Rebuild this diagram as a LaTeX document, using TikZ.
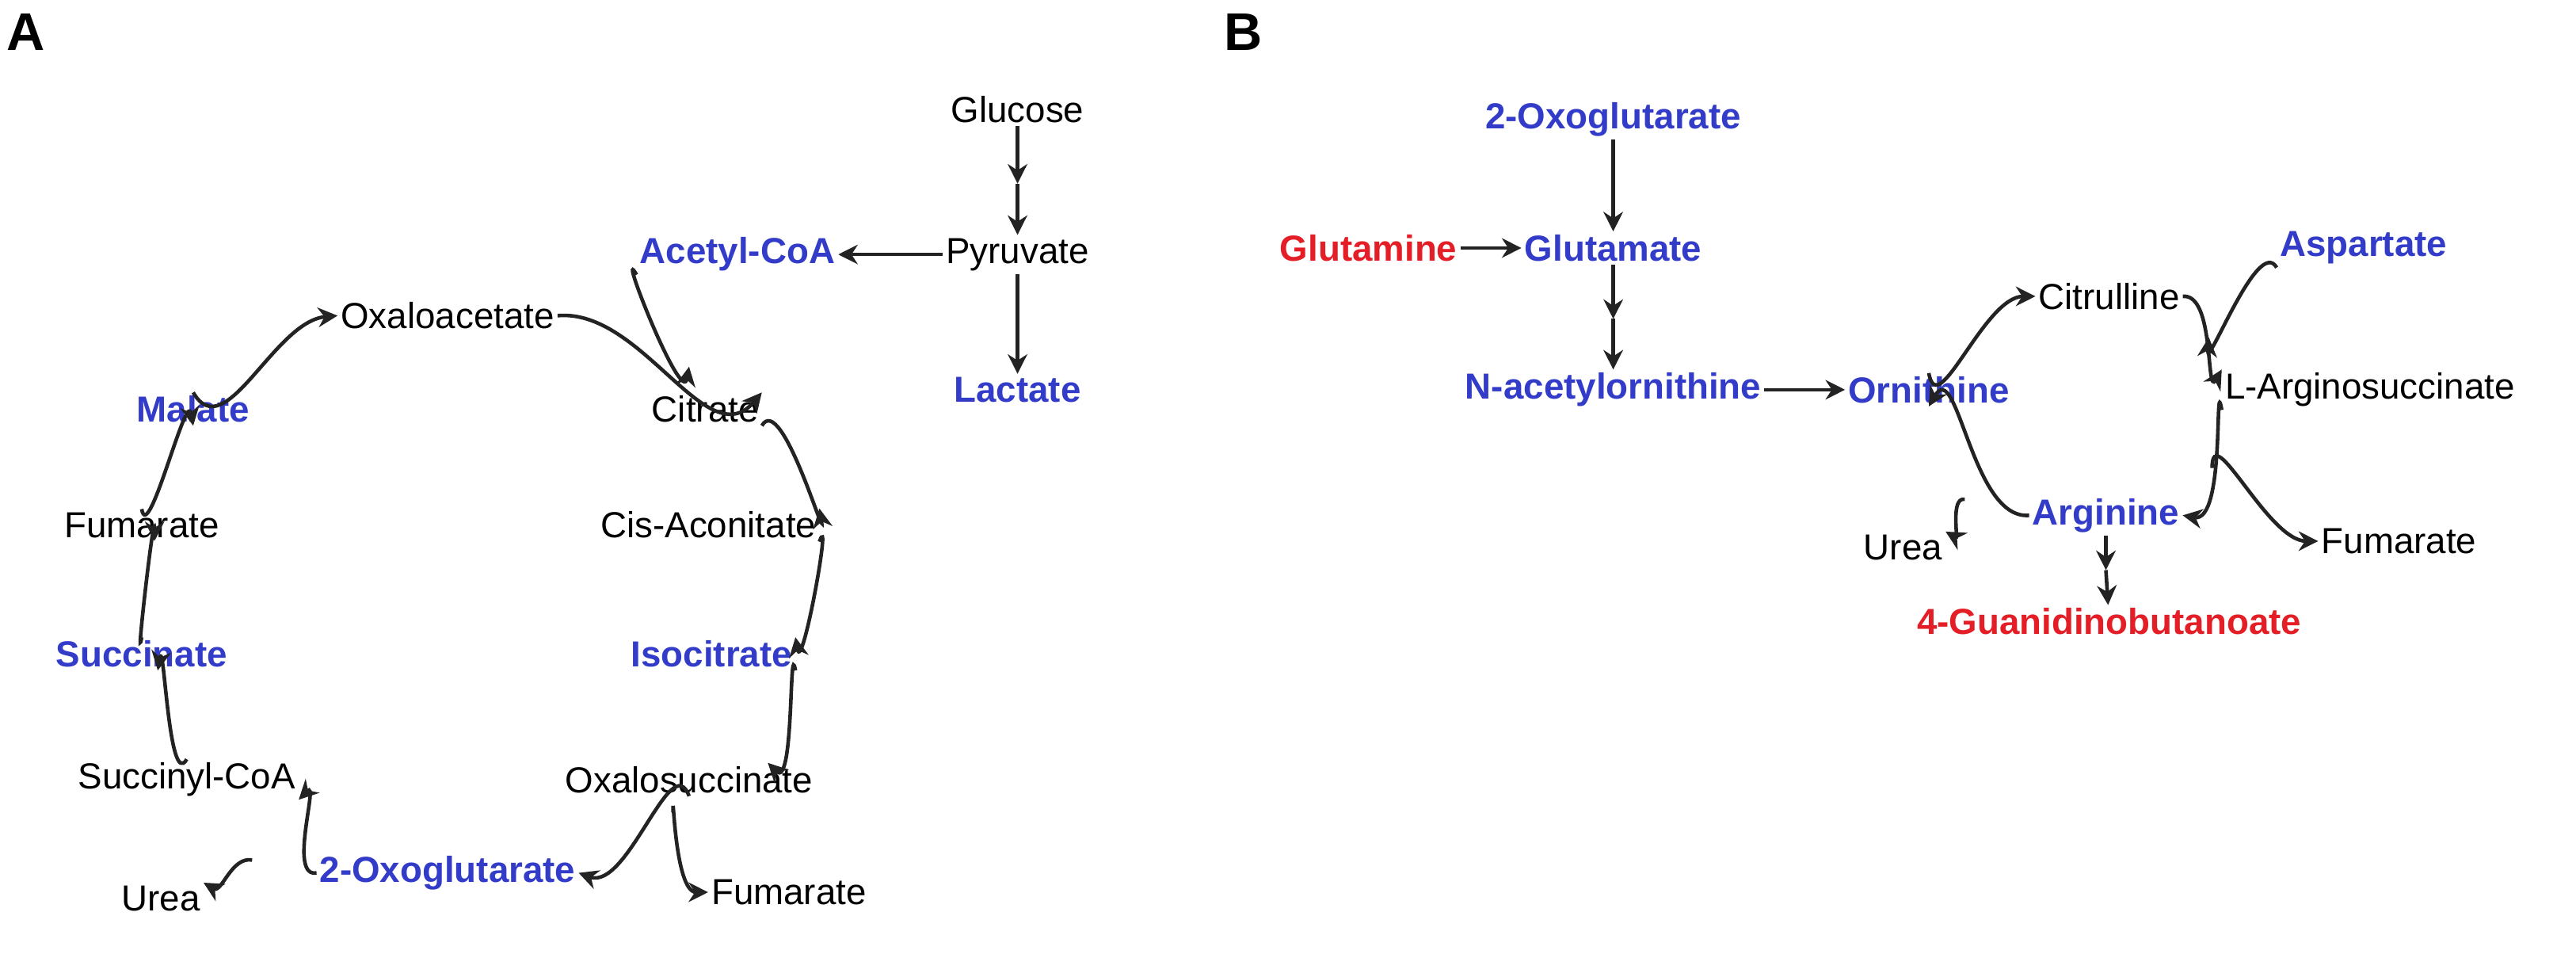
\documentclass[tikz,border=0pt]{standalone}
\usepackage{fontspec}
\setmainfont{Liberation Sans}
\usetikzlibrary{arrows.meta,calc}
\definecolor{metblue}{RGB}{50,60,200}
\definecolor{metred}{RGB}{228,30,38}
\definecolor{arr}{RGB}{35,35,35}

\begin{document}
\begin{tikzpicture}[x=0.04065cm,y=-0.04065cm,
    txt/.style={font=\fontsize{13}{16}\selectfont, inner sep=1pt},
    hit/.style={txt, font=\fontsize{13}{16}\selectfont\bfseries, text=metblue},
    lead/.style={txt, font=\fontsize{13}{16}\selectfont\bfseries, text=metred},
    rxn/.style={draw=arr, line width=1.3pt, -{Stealth[length=7pt,width=7pt]}}]
    \useasboundingbox (0,0) rectangle (800,303.3);

    \node[font=\fontsize{19}{22}\selectfont\bfseries] (pa) at (8,10) {A};
    \node[font=\fontsize{19}{22}\selectfont\bfseries] (pb) at (386,10) {B};

    % panel A
    \node[txt] (glc) at (316,34) {Glucose};
    \node[txt] (pyr) at (316,79) {Pyruvate};
    \node[hit] (lac) at (316,121) {Lactate};
    \node[hit] (acoa) at (229,79) {Acetyl-CoA};
    \node[txt] (oaa) at (139,98) {Oxaloacetate};
    \node[txt] (cit) at (219,127) {Citrate};
    \node[txt] (cis) at (220,163) {Cis-Aconitate};
    \node[hit] (icit) at (221,203) {Isocitrate};
    \node[txt] (osuc) at (214,242) {Oxalosuccinate};
    \node[hit] (oxg) at (139,271) {2-Oxoglutarate};
    \node[txt] (fumb) at (245,277) {Fumarate};
    \node[txt] (ureaa) at (50,279) {Urea};
    \node[txt] (scoa) at (58,242) {Succinyl-CoA};
    \node[hit] (succ) at (44,203) {Succinate};
    \node[txt] (fum) at (44,163) {Fumarate};
    \node[hit] (mal) at (60,127) {Malate};

    \coordinate (gm) at (316,57);
    \draw[rxn] (glc) -- (gm);
    \draw[rxn] (gm) -- (pyr);
    \draw[rxn] (pyr) -- (acoa);
    \draw[rxn] (pyr) -- (lac);
    \draw[rxn] (oaa.east) to[out=5,in=-130] (cit.north east);
    \draw[rxn] (acoa.south west) to[out=-240,in=-100] ($(cit.north)+(-5,-8)$);
    \draw[rxn] (cit.south east) to[out=60,in=-80] (cis.north east);
    \draw[rxn] (cis.south east) to[out=70,in=-80] (icit.north east);
    \draw[rxn] (icit.south east) to[out=100,in=-45] ($(osuc.north east)+(-15,0)$);
    \draw[rxn] (osuc.south) to[out=110,in=-20] (oxg.east);
    \draw[rxn] ($(osuc.south)+(-5,5)$) to[out=90,in=180] (fumb.west);
    \draw[rxn] (oxg.west) to[out=-170,in=45] (scoa.south east);
    \draw[rxn] ($(oxg.west)+(-20,-4)$) to[out=-190,in=-30] (ureaa.north east);
    \draw[rxn] (scoa.north) to[out=-120,in=80] ($(succ.south)+(5,0)$);
    \draw[rxn] (succ.north) to[out=-100,in=90] ($(fum.south)+(4,0)$);
    \draw[rxn] (fum.north) to[out=-80,in=100] (mal.south);
    \draw[rxn] (mal.north) to[out=-60,in=-175] (oaa.west);

    % panel B
    \node[hit] (oxgb) at (501,37) {2-Oxoglutarate};
    \node[lead] (gln) at (425,77) {Glutamine};
    \node[hit] (glu) at (501,77) {Glutamate};
    \node[hit] (nac) at (501,121) {N-acetylornithine};
    \node[hit] (orn) at (599,121) {Ornithine};
    \node[txt] (cit2) at (655,92) {Citrulline};
    \node[hit] (asp) at (734,77) {Aspartate};
    \node[txt] (asuc) at (736,121) {L-Arginosuccinate};
    \node[hit] (arg) at (654,160) {Arginine};
    \node[txt] (ureab) at (591,170) {Urea};
    \node[txt] (fumc) at (745,168) {Fumarate};
    \node[lead] (gba) at (655,193) {4-Guanidinobutanoate};

    \coordinate (gn) at (501,99);
    \coordinate (ar) at (654,177);
    \draw[rxn] (oxgb) -- (glu);
    \draw[rxn] (gln) -- (glu);
    \draw[rxn] (glu) -- (gn);
    \draw[rxn] (gn) -- (nac);
    \draw[rxn] (nac) -- (orn);
    \draw[rxn] (orn.north) to[out=-80,in=180] (cit2.west);
    \draw[rxn] (cit2.east) to[out=5,in=-120] (asuc.north west);
    \draw[rxn] (asp.south west) to[out=-240,in=-95] ($(asuc.north west)+(-4,-10)$);
    \draw[rxn] (asuc.south west) to[out=100,in=-10] (arg.east);
    \draw[rxn] ($(asuc.south west)+(-3,18)$) to[out=90,in=180] (fumc.west);
    \draw[rxn] (arg.west) to[out=-175,in=60] (orn.south);
    \draw[rxn] ($(arg.west)+(-20,-5)$) to[out=-190,in=-30] (ureab.north east);
    \draw[rxn] (arg) -- (ar);
    \draw[rxn] (ar) -- (gba);
\end{tikzpicture}
\end{document}
